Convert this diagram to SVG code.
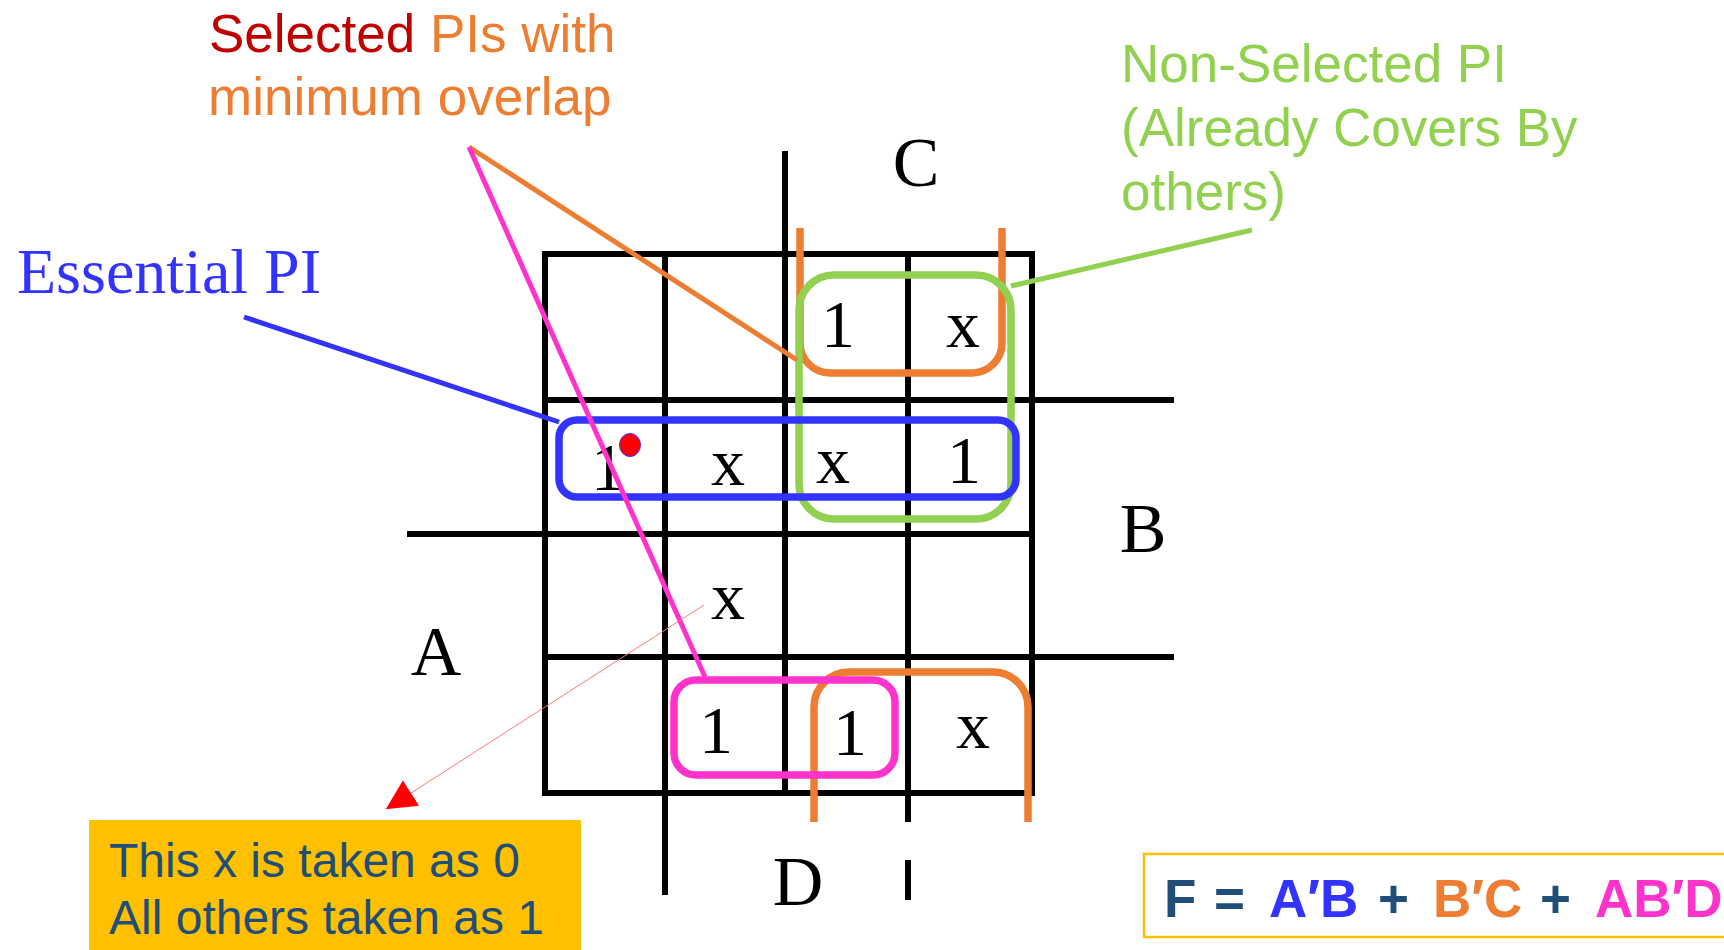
<svg xmlns="http://www.w3.org/2000/svg" width="1724" height="950" viewBox="0 0 1724 950">
<defs>
<style>
.grid{stroke:#000;stroke-width:6;fill:none}
.serif{font-family:"Liberation Serif","Times New Roman",serif;fill:#000}
.cell{font-size:68px;text-anchor:middle}
.var{font-size:70px;text-anchor:middle}
.sans{font-family:"Liberation Sans",Arial,sans-serif}
.pi{fill:none;stroke-width:7.5}
.lead{stroke-width:5;fill:none}
.note{font-size:53px}
.dk{fill:#1F4E79}
</style>
<marker id="tri" markerUnits="userSpaceOnUse" viewBox="0 0 30 30" refX="0" refY="15" markerWidth="30" markerHeight="30" orient="auto"><path d="M0,0 L30,15 L0,30 Z" fill="#FF0000"/></marker>
</defs>
<rect width="1724" height="950" fill="#fff"/>

<g id="kmap" class="grid">
<rect x="545" y="254" width="487" height="539"/>
<line x1="665" y1="254" x2="665" y2="895"/>
<line x1="785" y1="151" x2="785" y2="793"/>
<line x1="908" y1="254" x2="908" y2="822"/>
<line x1="908" y1="860" x2="908" y2="900"/>
<line x1="545" y1="400" x2="1174" y2="400"/>
<line x1="407" y1="534" x2="1032" y2="534"/>
<line x1="545" y1="657" x2="1174" y2="657"/>
</g>

<g id="var-labels" class="serif var">
<text x="916" y="186">C</text>
<text x="1143" y="552">B</text>
<text x="436" y="675">A</text>
<text x="798" y="905">D</text>
</g>

<g id="cells" class="serif cell">
<text x="838" y="347">1</text>
<text x="963" y="347">x</text>
<text x="608" y="490">1</text>
<text x="728" y="485">x</text>
<text x="833" y="483">x</text>
<text x="964" y="483">1</text>
<text x="728" y="619">x</text>
<text x="716" y="753">1</text>
<text x="850" y="755">1</text>
<text x="973" y="748">x</text>
</g>

<g id="pi-bc-top"><path class="pi" stroke="#ED7D31" d="M800,228 V343 A30,30 0 0 0 830,373 H972 A30,30 0 0 0 1002,343 V228"/></g>
<g id="pi-nonselected"><rect class="pi" stroke="#92D050" x="799" y="275" width="212" height="244" rx="35"/></g>
<g id="pi-essential"><rect class="pi" stroke="#3333FF" x="559" y="420" width="457" height="77" rx="18"/></g>
<g id="pi-bc-bottom"><path class="pi" stroke="#ED7D31" d="M814,822 V707 A35,35 0 0 1 849,672 H993 A35,35 0 0 1 1028,707 V822"/></g>
<g id="pi-abd"><rect class="pi" stroke="#FF33CC" x="674" y="680" width="221" height="95" rx="22"/></g>

<g id="connectors">
<path class="lead" stroke="#ED7D31" d="M469,147 L797,360"/>
<path class="lead" stroke="#FF33CC" d="M469,147 L705,677"/>
<path class="lead" stroke="#3333FF" d="M244,317 L559,422"/>
<path class="lead" stroke="#92D050" d="M1011,286 L1252,230"/>
<path stroke="#FF7777" stroke-width="1" fill="none" d="M704,605 L411,793" marker-end="url(#tri)"/>
</g>

<g id="essential-dot"><ellipse cx="630" cy="445" rx="10.5" ry="11.5" fill="#FF0000" stroke="#3333FF" stroke-width="1"/></g>

<g id="label-essential"><text class="serif" x="17" y="293" font-size="64" style="fill:#3333FF">Essential PI</text></g>

<g id="label-selected" class="sans note">
<text x="209" y="52"><tspan fill="#C00000">Selected</tspan><tspan fill="#ED7D31"> PIs with</tspan></text>
<text x="208" y="115" fill="#ED7D31">minimum overlap</text>
</g>

<g id="label-nonselected" class="sans note" fill="#92D050">
<text x="1121" y="82">Non-Selected PI</text>
<text x="1121" y="146">(Already Covers By</text>
<text x="1121" y="210">others)</text>
</g>

<g id="note-x">
<rect x="89" y="820" width="492" height="135" fill="#FFC000"/>
<text class="sans dk" x="109" y="877" font-size="48">This x is taken as 0</text>
<text class="sans dk" x="109" y="934" font-size="48">All others taken as 1</text>
</g>

<g id="formula">
<rect x="1144" y="854" width="600" height="83" fill="#fff" stroke="#FFC000" stroke-width="2.5"/>
<text class="sans" y="917" font-size="53" font-weight="bold"><tspan class="dk" x="1164">F</tspan><tspan class="dk" x="1214">=</tspan><tspan fill="#3333FF" x="1269">A′B</tspan><tspan class="dk" x="1378">+</tspan><tspan fill="#ED7D31" x="1433">B′C</tspan><tspan class="dk" x="1540">+</tspan><tspan fill="#FF33CC" x="1595">AB′D</tspan></text>
</g>
</svg>
